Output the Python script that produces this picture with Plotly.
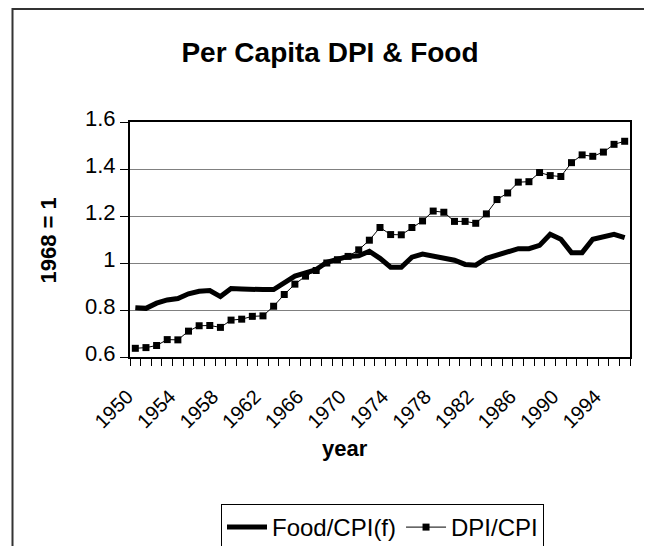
import plotly.graph_objects as go

years = list(range(1950, 1997))

food_cpi = [0.810, 0.807, 0.829, 0.843, 0.849, 0.869, 0.880, 0.883, 0.857, 0.891,
            0.889, 0.886, 0.887, 0.887, 0.915, 0.944, 0.958, 0.972, 1.003, 1.014,
            1.028, 1.031, 1.050, 1.020, 0.982, 0.982, 1.025, 1.038, 1.028, 1.019,
            1.012, 0.994, 0.991, 1.020, 1.032, 1.047, 1.061, 1.061, 1.075, 1.122,
            1.101, 1.044, 1.044, 1.101, 1.112, 1.122, 1.108]

dpi_cpi = [0.637, 0.640, 0.649, 0.674, 0.673, 0.710, 0.733, 0.734, 0.726, 0.757,
           0.761, 0.773, 0.775, 0.816, 0.866, 0.910, 0.944, 0.968, 1.000, 1.014,
           1.028, 1.056, 1.097, 1.151, 1.121, 1.120, 1.151, 1.179, 1.221, 1.216,
           1.177, 1.177, 1.169, 1.209, 1.270, 1.298, 1.344, 1.346, 1.385, 1.372,
           1.368, 1.427, 1.460, 1.454, 1.472, 1.505, 1.518]

label_years = list(range(1950, 1997, 4))

FONT = "Liberation Sans, Arial, sans-serif"

fig = go.Figure()
fig.add_trace(go.Scatter(x=years, y=food_cpi, name="Food/CPI(f)", mode="lines",
                         line=dict(color="black", width=5)))
fig.add_trace(go.Scatter(x=years, y=dpi_cpi, name="DPI/CPI", mode="lines+markers",
                         line=dict(color="black", width=1),
                         marker=dict(symbol="square", size=7, color="black")))

# figure coordinates (page is offset by the browser's 8px body margin)
W, H = 644, 538
L, R, T, B = 122, 622, 114, 349
pw, ph = R - L, B - T

def px(x):
    return (x - L) / pw

def py(y):
    return (B - y) / ph

fig.update_layout(
    width=W, height=H,
    margin=dict(l=L, r=W - R, t=T, b=H - B, pad=0),
    paper_bgcolor="white", plot_bgcolor="white",
    font=dict(family=FONT, color="black"),
    showlegend=True,
    title=dict(text="<b>Per Capita DPI & Food</b>", x=322 / W, xanchor="center",
               xref="container", y=1 - 44 / H, yref="container", yanchor="middle",
               font=dict(size=28, family=FONT, color="black")),
    legend=dict(orientation="h", xref="container", yref="container",
                x=213 / W, xanchor="left", y=1 - 496 / H, yanchor="top",
                bordercolor="black", borderwidth=1, bgcolor="white",
                font=dict(size=24, family=FONT), itemwidth=40,
                tracegroupgap=0, traceorder="normal"),
    xaxis=dict(range=[1949.5, 1996.5], tickmode="array", tickvals=label_years,
               ticktext=[str(y) for y in label_years], tickangle=-45,
               ticks="", showgrid=False, zeroline=False,
               showline=True, linecolor="black", linewidth=2, mirror=True,
               tickfont=dict(size=20, family=FONT),
               ticklabelstandoff=18, ticklabelshift=-8,
               minor=dict(ticks="outside", tick0=1949.5, dtick=1, ticklen=7,
                          tickcolor="black", tickwidth=1, showgrid=False)),
    yaxis=dict(range=[0.6, 1.6], dtick=0.2, tick0=0.6, ticks="outside", ticklen=8,
               tickcolor="black", showgrid=True, gridcolor="#808080", gridwidth=1,
               zeroline=False, showline=True, linecolor="black", linewidth=2, mirror=True,
               tickfont=dict(size=22, family=FONT), ticklabelshift=-4),
    annotations=[
        dict(text="<b>1968 = 1</b>", xref="paper", yref="paper", x=px(39.5), y=py(233),
             textangle=-90, showarrow=False, font=dict(size=22, family=FONT),
             xanchor="center", yanchor="middle"),
        dict(text="<b>year</b>", xref="paper", yref="paper", x=px(337), y=py(440),
             showarrow=False, font=dict(size=22, family=FONT),
             xanchor="center", yanchor="middle"),
    ],
    shapes=[
        dict(type="rect", xref="paper", yref="paper", x0=px(4.5), x1=px(638),
             y0=py(560), y1=py(1), line=dict(color="#333333", width=2),
             fillcolor="rgba(0,0,0,0)", layer="below"),
    ],
)

fig.write_html("out.html")
